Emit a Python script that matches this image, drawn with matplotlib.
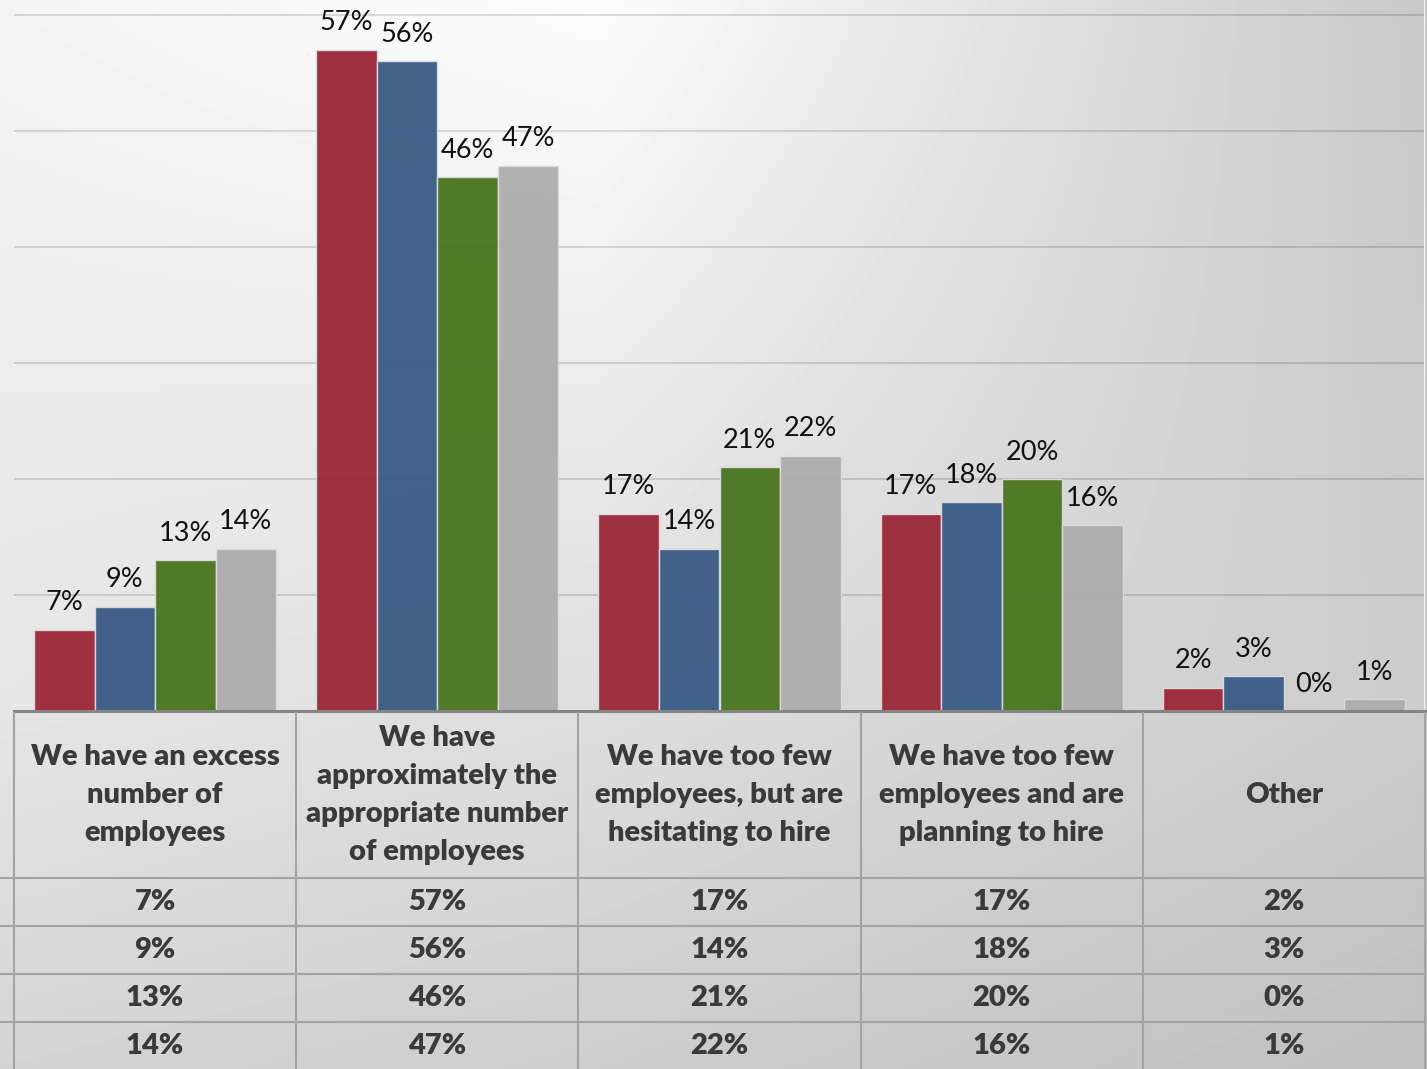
import numpy as np
import matplotlib.pyplot as plt

categories = [
    "We have an excess\nnumber of\nemployees",
    "We have\napproximately the\nappropriate number\nof employees",
    "We have too few\nemployees, but are\nhesitating to hire",
    "We have too few\nemployees and are\nplanning to hire",
    "Other",
]
series_a = [7, 57, 17, 17, 2]
series_b = [9, 56, 14, 18, 3]
series_c = [13, 46, 21, 20, 0]
series_d = [14, 47, 22, 16, 1]
series = [series_a, series_b, series_c, series_d]
colors = ["#9c2838", "#3a5c86", "#4a761f", "#adadad"]

W, H = 1427, 1069
plt.rcParams["font.family"] = ["Lato", "DejaVu Sans"]


def px_rect(x0, y0, x1, y1):
    return [x0 / W, 1 - y1 / H, (x1 - x0) / W, (y1 - y0) / H]


fig = plt.figure(figsize=(W / 100, H / 100), dpi=100)

# soft gray gradient behind everything
gx = [0, 600, 1427]
gy = [0, 700, 1069]
gv = np.array([[244, 253, 200],
               [230, 222, 204],
               [212, 205, 192]], dtype=float)
X = np.arange(W)
Y = np.arange(H)
rows = np.array([np.interp(X, gx, r) for r in gv])
img = np.empty((H, W))
for j in range(W):
    img[:, j] = np.interp(Y, gy, rows[:, j])
bg = fig.add_axes([0, 0, 1, 1])
bg.imshow(img, cmap="gray", vmin=0, vmax=255, aspect="auto",
          extent=(0, W, H, 0))
bg.set_axis_off()

# bar chart
ax = fig.add_axes(px_rect(14, 0, 1425, 711))
ax.set_facecolor("none")
per_pct = 696 / 60
ax.set_ylim(0, 711 / per_pct)
ax.set_xlim(-0.5, 4.5)
for g in range(10, 61, 10):
    ax.axhline(g, color="black", alpha=0.13, lw=1.5, zorder=1)
ax.axhline(0, color="#858585", lw=2.2, zorder=4, clip_on=False)
ax.axvline(4.5, color="#f2f2f2", lw=1.5, zorder=1)

x = np.arange(len(categories))
w = 0.2145
for k, (vals, c) in enumerate(zip(series, colors)):
    pos = x + (k - 1.5) * w
    ax.bar(pos, vals, width=w, color=c, alpha=0.96, edgecolor="#dcdcdc",
           linewidth=1.0, zorder=2)
    for xp, v in zip(pos, vals):
        ax.annotate(f"{v}%", (xp, v), xytext=(0, 14), textcoords="offset points",
                    ha="center", va="baseline", fontsize=19.5, color="#111111")
for s in ax.spines.values():
    s.set_visible(False)
ax.set_xticks([])
ax.set_yticks([])

# data table under the bars
tab = fig.add_axes(px_rect(14, 711, 1425, 1069))
tab.set_facecolor("none")
tab.set_xlim(-0.5, 4.5)
tab.set_ylim(1069, 711)
tab.set_axis_off()
line_c = "#a3a3a3"
for xv in np.arange(-0.5, 5.0, 1.0):
    tab.plot([xv, xv], [713, 1069], color=line_c, lw=1.5, clip_on=False)
row_lines = [878, 926, 974, 1022]
left_edge = -0.5 - 14 / 282.2
for yv in row_lines:
    tab.plot([left_edge, 4.5], [yv, yv], color=line_c, lw=1.5, clip_on=False)

for i, lab in enumerate(categories):
    tab.text(i, 795, lab, ha="center", va="center", fontsize=21,
             fontweight="heavy", color="#3a3a3a", linespacing=1.57)
row_centers = [902, 950, 998, 1046]
for vals, yc in zip(series, row_centers):
    for i, v in enumerate(vals):
        tab.text(i, yc, f"{v}%", ha="center", va="center", fontsize=21,
                 fontweight="heavy", color="#3a3a3a")

fig.savefig("out.png", dpi=100)
